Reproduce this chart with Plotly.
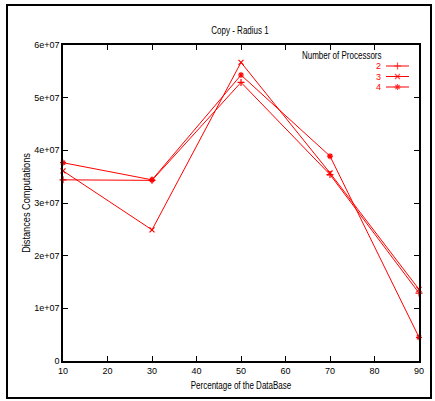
import plotly.graph_objects as go

# ---- data ----
x_pct = [10, 30, 50, 70, 90]
procs_2 = [34.4e6, 34.3e6, 52.9e6, 35.4e6, 12.9e6]
procs_3 = [36.1e6, 24.9e6, 56.7e6, 35.7e6, 13.6e6]
procs_4 = [37.65e6, 34.4e6, 54.3e6, 38.9e6, 4.5e6]
series_names = ["2", "3", "4"]
series_vals = [procs_2, procs_3, procs_4]
symbols = ["cross-thin-open", "x-thin-open", "asterisk-open"]

y_tickvals = [0, 1e7, 2e7, 3e7, 4e7, 5e7, 6e7]
y_ticktext = ["0", "1e+07", "2e+07", "3e+07", "4e+07", "5e+07", "6e+07"]
x_tickvals = [10, 20, 30, 40, 50, 60, 70, 80, 90]

FONT = "Liberation Sans, Arial, sans-serif"
RED = "#ff0000"

W, H = 435, 401
L, R, T, B = 63, 16, 45, 40
PW, PH = W - L - R, H - T - B

fig = go.Figure()
for name, vals, sym in zip(series_names, series_vals, symbols):
    fig.add_trace(go.Scatter(
        x=x_pct, y=vals, mode="lines+markers", name=name,
        line=dict(color=RED, width=1),
        marker=dict(symbol=sym, size=5, color=RED, line=dict(color=RED, width=1.2)),
        showlegend=False, cliponaxis=False,
    ))

# manual gnuplot-style legend (text left of sample), drawn on a pixel overlay axis
leg_y = [66, 76.5, 87]
for name, sym, ly in zip(series_names, symbols, leg_y):
    fig.add_trace(go.Scatter(
        x=[386, 397.5, 409], y=[ly, ly, ly], mode="lines+markers",
        xaxis="x2", yaxis="y2", showlegend=False, hoverinfo="skip",
        line=dict(color=RED, width=1),
        marker=dict(symbol=sym, size=[0, 5, 0], color=RED, line=dict(color=RED, width=1.2)),
    ))
    fig.add_annotation(x=382, y=ly, xref="x2", yref="y2", text=name, showarrow=False,
                       xanchor="right", yanchor="middle", borderpad=0,
                       font=dict(family=FONT, size=9, color=RED))
fig.add_annotation(x=391.5, y=55, xref="x2", yref="y2", text="Number of Processors",
                   showarrow=False, xanchor="right", yanchor="middle", borderpad=0,
                   font=dict(family=FONT, size=10, color="black"))

axis_common = dict(showline=True, mirror="ticks", linecolor="black", linewidth=1.5,
                   ticks="inside", ticklen=5, tickwidth=1, tickcolor="black",
                   showgrid=False, zeroline=False,
                   tickfont=dict(family=FONT, size=9, color="black"))

fig.update_layout(
    width=W, height=H,
    margin=dict(l=L, r=R, t=T, b=B),
    paper_bgcolor="white", plot_bgcolor="white",
    title=dict(text="Copy - Radius 1", x=(240) / W, xanchor="center",
               y=1 - 30 / H, yanchor="middle",
               font=dict(family=FONT, size=10, color="black")),
    xaxis=dict(range=[10, 90], tickvals=x_tickvals,
               title=dict(text="Percentage of the DataBase", standoff=7,
                          font=dict(family=FONT, size=10, color="black")),
               **axis_common),
    yaxis=dict(range=[0, 6e7], tickvals=y_tickvals, ticktext=y_ticktext,
               title=dict(text="Distances Computations", standoff=2,
                          font=dict(family=FONT, size=10, color="black")),
               **axis_common),
    xaxis2=dict(range=[L, L + PW], overlaying="x", visible=False, fixedrange=True),
    yaxis2=dict(range=[T + PH, T], overlaying="y", visible=False, fixedrange=True),
    shapes=[dict(type="rect", xref="paper", yref="paper",
                 x0=(7 - L) / PW, x1=(431 - L) / PW,
                 y0=(T + PH - 398) / PH, y1=(T + PH - 5) / PH,
                 line=dict(color="black", width=2), fillcolor="rgba(0,0,0,0)")],
)

# gnuplot-like narrow lettering for titles: compress glyphs horizontally
post = """
document.body.style.margin = '0';
document.body.style.overflow = 'hidden';
function squeeze(sel, ratio){
  document.querySelectorAll(sel).forEach(function(t){
    if (t.textContent.length < 4) return;
    var w = t.getComputedTextLength();
    if (w > 0){
      t.setAttribute('lengthAdjust', 'spacingAndGlyphs');
      t.setAttribute('textLength', (w * ratio).toFixed(1));
    }
  });
}
squeeze('.gtitle', 0.8);
squeeze('.xtitle', 0.8);
squeeze('.ytitle', 0.92);
squeeze('.annotation-text', 0.8);
"""

fig.write_html("out.html", post_script=post, config={"displayModeBar": False})
